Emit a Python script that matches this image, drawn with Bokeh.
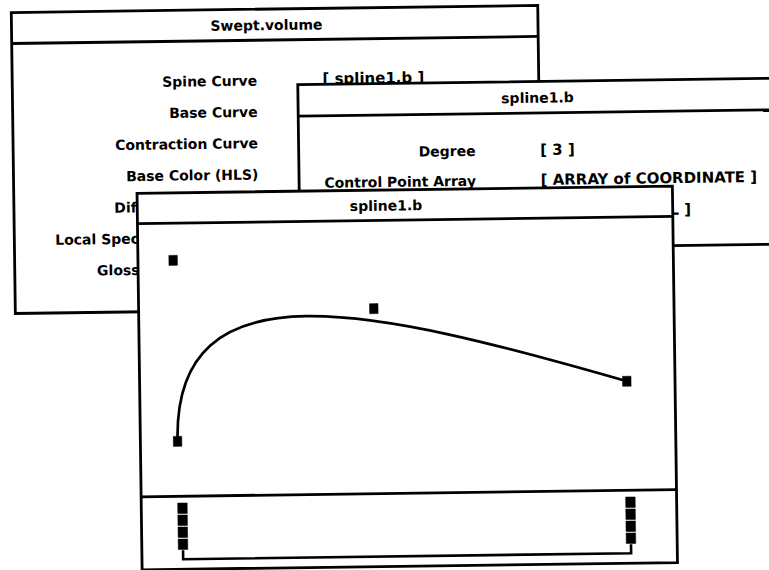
import numpy as np
from bokeh.plotting import figure
from bokeh.models import Range1d
from bokeh.core.properties import value
from bokeh.embed import file_html
from bokeh.resources import INLINE

# ---------------- data ----------------
window_titles = ["Swept.volume", "spline1.b", "spline1.b"]

swept_labels = ["Spine Curve", "Base Curve", "Contraction Curve", "Base Color (HLS)",
                "Diffuse Coefficient", "Local Specular Coefficient", "Glossiness Exponent"]
swept_values = ["[ spline1.b ]"]

spline_labels = ["Degree", "Control Point Array", "Knot Vector"]
spline_values = ["[ 3 ]", "[ ARRAY of COORDINATE ]", "[ ARRAY of REAL ]"]

# control points of spline1.b (editor pixel units, y pointing down)
ctrl_x = [175, 173, 373, 625]
ctrl_y = [438, 257, 308, 384]

degree = 3
knots = [0, 0, 0, 0, 1, 1, 1, 1]

# ---------------- layout / style ----------------
TILT = 0.0135            # the photographed screen is slightly rotated
CX, CY = 385.0, 285.0
LW = 2.8
FONT = value("DejaVu Sans")
LABEL_SIZE = "14px"
VALUE_SIZE = "15px"

# windows: left, top, right, bottom, title-bar bottom, title x
W1 = dict(l=14.5, t=7, r=541, b=308, bar=38, tx=269.5)
W2 = dict(l=300, t=83, r=830, b=249, bar=114.5, tx=539.5)
W3 = dict(l=137.8, t=189.5, r=673.2, b=566, bar=219.8, tx=386.6, panel=493)

W1_ROWS = [78.3, 109.6, 140.9, 172.2, 203.5, 234.8, 266.1]
W1_LABEL_X, W1_VALUE_X = 259.5, 324.8
W2_ROWS = [151.5, 181.5, 213.0]
W2_LABEL_X, W2_VALUE_X = 477.0, 541.5

KNOT_X0, KNOT_X1 = 179.0, 627.0
KNOT_TOP, KNOT_STEP = 505.0, 12.0
BRACKET_Y = 556.0


def rot(x, y):
    x = np.asarray(x, dtype=float)
    y = np.asarray(y, dtype=float)
    dx, dy = x - CX, y - CY
    c, s = np.cos(TILT), np.sin(TILT)
    return CX + dx * c + dy * s, CY - dx * s + dy * c


p = figure(width=769, height=570, x_range=Range1d(0, 769), y_range=Range1d(570, 0),
           output_backend="svg", toolbar_location=None,
           x_axis_type=None, y_axis_type=None, min_border=0,
           outline_line_color=None, background_fill_color="white",
           border_fill_color="white")
p.grid.visible = False


def txt(x, y, t, align, size=LABEL_SIZE):
    xs, ys = rot(x, y)
    p.text(x=list(xs), y=list(ys), text=list(t), angle=TILT,
           text_font=FONT, text_font_style="bold", text_font_size=size,
           text_align=align, text_baseline="middle", text_color="black")


def window(w, title, extra=()):
    xs, ys = rot([w["l"], w["r"], w["r"], w["l"]], [w["t"], w["t"], w["b"], w["b"]])
    p.patch(list(xs), list(ys), fill_color="white", line_color="black",
            line_width=LW, line_join="miter")
    for yy in (w["bar"],) + tuple(extra):
        lx, ly = rot([w["l"], w["r"]], [yy, yy])
        p.line(list(lx), list(ly), line_color="black", line_width=LW)
    txt([w["tx"]], [(w["t"] + w["bar"]) / 2 + 0.5], [title], "center")


# --- window 1 : Swept.volume ---
window(W1, window_titles[0])
txt([W1_LABEL_X] * len(swept_labels), W1_ROWS[:len(swept_labels)], swept_labels, "right")
txt([W1_VALUE_X] * len(swept_values), [r - 0.8 for r in W1_ROWS[:len(swept_values)]],
    swept_values, "left", VALUE_SIZE)

# --- window 2 : spline1.b attributes ---
window(W2, window_titles[1])
txt([W2_LABEL_X] * len(spline_labels), W2_ROWS[:len(spline_labels)], spline_labels, "right")
txt([W2_VALUE_X] * len(spline_values), W2_ROWS[:len(spline_values)], spline_values,
    "left", VALUE_SIZE)

# --- window 3 : spline1.b curve editor ---
window(W3, window_titles[2], extra=(W3["panel"],))

# cubic Bezier segment from the control polygon
bx, by = rot(ctrl_x, ctrl_y)
p.bezier(x0=[bx[0]], y0=[by[0]], x1=[bx[3]], y1=[by[3]],
         cx0=[bx[1]], cy0=[by[1]], cx1=[bx[2]], cy1=[by[2]],
         line_color="black", line_width=2.7)
p.rect(x=list(bx), y=list(by), width=8.5, height=10, angle=TILT,
       fill_color="black", line_color="black", line_width=0.5)

# knot vector display (stacked by multiplicity)
kx, ky = [], []
kmin, kmax = min(knots), max(knots)
for i, k in enumerate(knots):
    mult = knots[:i].count(k)
    kx.append(KNOT_X0 + (k - kmin) / (kmax - kmin) * (KNOT_X1 - KNOT_X0))
    ky.append(KNOT_TOP + mult * KNOT_STEP)
rkx, rky = rot(kx, ky)
p.rect(x=list(rkx), y=list(rky), width=9.5, height=10.5, angle=TILT,
       fill_color="black", line_color="black", line_width=0.5)

bottom = max(ky) + 6
brx, bry = rot([KNOT_X0, KNOT_X0, KNOT_X1, KNOT_X1], [bottom, BRACKET_Y, BRACKET_Y, bottom])
p.line(list(brx), list(bry), line_color="black", line_width=2.6, line_join="miter")

open("out.html", "w").write(file_html(p, INLINE))
